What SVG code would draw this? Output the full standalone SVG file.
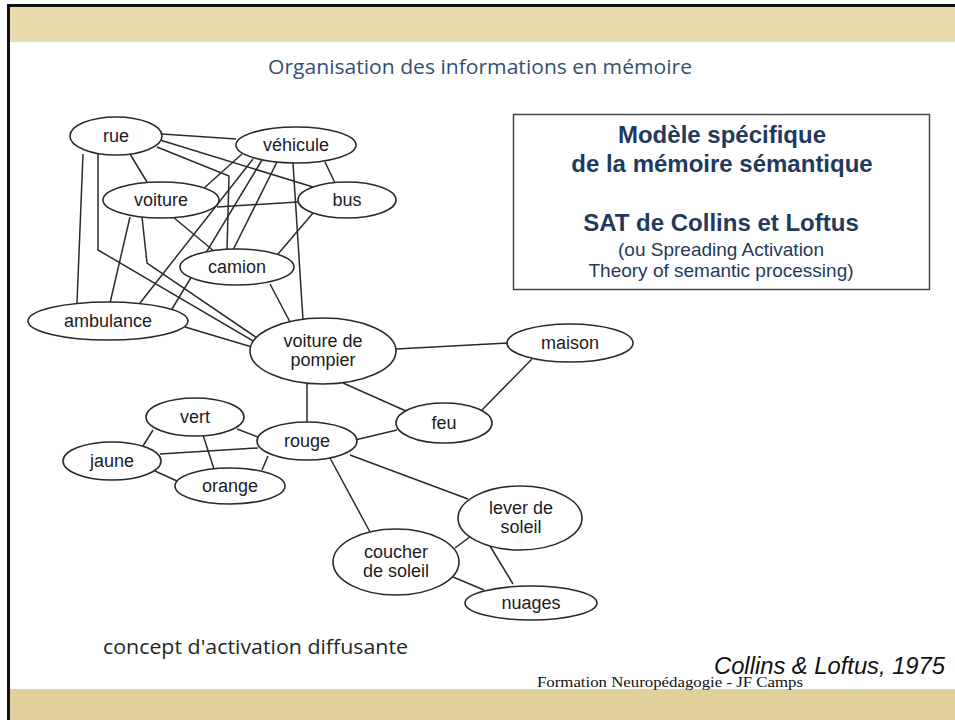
<svg xmlns="http://www.w3.org/2000/svg" width="955" height="720" viewBox="0 0 955 720">
<style>
.n ellipse{fill:#fff;stroke:#2a2a2a;stroke-width:1.6}
.n text{font-family:"Liberation Sans",Arial,sans-serif;font-size:18px;fill:#1c1c24;text-anchor:middle}
#edges line,#edges polyline{stroke:#2a2a2a;stroke-width:1.5;fill:none}
.bx{font-family:"Liberation Sans",Arial,sans-serif;fill:#1f3a5c;text-anchor:middle}
</style>
<rect x="0" y="0" width="955" height="720" fill="#fff"/>
<rect x="10" y="7" width="945" height="35" fill="#e9ddb0"/>
<rect x="10" y="689" width="945" height="31" fill="#e0d09c"/>
<rect x="7" y="4" width="948" height="3" fill="#111"/>
<rect x="7" y="4" width="3" height="716" fill="#111"/>

<text x="480" y="74" font-family="'Open Sans',sans-serif" font-size="20" fill="#34506f" text-anchor="middle" textLength="424" lengthAdjust="spacingAndGlyphs">Organisation des informations en mémoire</text>

<g id="edges">
<line x1="162" y1="134" x2="236" y2="139"/>
<line x1="130" y1="154" x2="147" y2="182"/>
<line x1="160" y1="140" x2="313" y2="187"/>
<polyline points="157,147 229,176 227,250"/>
<line x1="83" y1="154" x2="77" y2="303"/>
<polyline points="98,154 98,250 265,348"/>
<line x1="242" y1="154" x2="203" y2="189"/>
<line x1="325" y1="162" x2="335" y2="183"/>
<line x1="277" y1="162" x2="233" y2="250"/>
<line x1="293" y1="163" x2="303" y2="320"/>
<line x1="253" y1="159" x2="140" y2="303"/>
<line x1="262" y1="160" x2="172" y2="309"/>
<line x1="217" y1="207" x2="298" y2="202"/>
<line x1="173" y1="217" x2="215" y2="252"/>
<line x1="130" y1="217" x2="110" y2="303"/>
<polyline points="142,217 147,263 260,340"/>
<line x1="313" y1="213" x2="278" y2="254"/>
<line x1="270" y1="284" x2="290" y2="322"/>
<line x1="185" y1="327" x2="252" y2="347"/>
<line x1="396" y1="349" x2="508" y2="343"/>
<line x1="343" y1="383" x2="406" y2="411"/>
<line x1="532" y1="359" x2="482" y2="410"/>
<line x1="397" y1="430" x2="355" y2="440"/>
<line x1="307" y1="384" x2="307" y2="423"/>
<line x1="237" y1="429" x2="258" y2="437"/>
<line x1="160" y1="454" x2="258" y2="448"/>
<line x1="268" y1="456" x2="262" y2="470"/>
<line x1="153" y1="430" x2="143" y2="446"/>
<line x1="203" y1="435" x2="214" y2="469"/>
<line x1="155" y1="471" x2="177" y2="481"/>
<line x1="330" y1="458" x2="370" y2="532"/>
<line x1="350" y1="455" x2="468" y2="499"/>
<line x1="455" y1="548" x2="471" y2="536"/>
<line x1="453" y1="577" x2="484" y2="590"/>
<line x1="490" y1="546" x2="513" y2="584"/>
</g>

<g id="rue" class="n"><ellipse cx="116" cy="136" rx="46" ry="19"/><text x="116" y="142">rue</text></g>
<g id="vehicule" class="n"><ellipse cx="296" cy="145" rx="60" ry="18"/><text x="296" y="151">véhicule</text></g>
<g id="voiture" class="n"><ellipse cx="161" cy="200" rx="58" ry="18"/><text x="161" y="206">voiture</text></g>
<g id="bus" class="n"><ellipse cx="347" cy="200" rx="49" ry="18"/><text x="347" y="206">bus</text></g>
<g id="camion" class="n"><ellipse cx="237" cy="267" rx="57" ry="18"/><text x="237" y="273">camion</text></g>
<g id="ambulance" class="n"><ellipse cx="108" cy="321" rx="80" ry="19"/><text x="108" y="327">ambulance</text></g>
<g id="pompier" class="n"><ellipse cx="323" cy="351" rx="73" ry="33"/><text x="323" y="347">voiture de</text><text x="323" y="366">pompier</text></g>
<g id="maison" class="n"><ellipse cx="570" cy="343" rx="63" ry="19"/><text x="570" y="349">maison</text></g>
<g id="feu" class="n"><ellipse cx="444" cy="423" rx="48" ry="20"/><text x="444" y="429">feu</text></g>
<g id="rouge" class="n"><ellipse cx="307" cy="441" rx="50" ry="19"/><text x="307" y="447">rouge</text></g>
<g id="vert" class="n"><ellipse cx="195" cy="417" rx="49" ry="19"/><text x="195" y="423">vert</text></g>
<g id="jaune" class="n"><ellipse cx="112" cy="461" rx="49" ry="19"/><text x="112" y="467">jaune</text></g>
<g id="orange" class="n"><ellipse cx="230" cy="486" rx="55" ry="18"/><text x="230" y="492">orange</text></g>
<g id="lever" class="n"><ellipse cx="520" cy="518" rx="62" ry="32"/><text x="521" y="514">lever de</text><text x="521" y="533">soleil</text></g>
<g id="coucher" class="n"><ellipse cx="396" cy="562" rx="63" ry="33"/><text x="396" y="558">coucher</text><text x="396" y="577">de soleil</text></g>
<g id="nuages" class="n"><ellipse cx="531" cy="603" rx="66" ry="17"/><text x="531" y="609">nuages</text></g>

<g id="box">
<rect x="513.5" y="114.5" width="416" height="175" fill="#fff" stroke="#444" stroke-width="1.5"/>
<text class="bx" x="722" y="143" font-size="24" font-weight="bold">Modèle spécifique</text>
<text class="bx" x="722" y="172" font-size="24" font-weight="bold">de la mémoire sémantique</text>
<text class="bx" x="721" y="231" font-size="24" font-weight="bold">SAT de Collins et Loftus</text>
<text class="bx" x="721" y="256" font-size="19">(ou Spreading Activation</text>
<text class="bx" x="721" y="277" font-size="19">Theory of semantic processing)</text>
</g>

<text x="103" y="654" font-family="'Open Sans',sans-serif" font-size="20" fill="#262626" textLength="305" lengthAdjust="spacingAndGlyphs">concept d'activation diffusante</text>
<text x="945" y="674" font-family="'Liberation Sans',Arial,sans-serif" font-size="24" font-style="italic" fill="#111" text-anchor="end" textLength="231" lengthAdjust="spacingAndGlyphs">Collins &amp; Loftus, 1975</text>
<text x="537" y="687" font-family="'Liberation Serif',serif" font-size="14" fill="#111" textLength="266" lengthAdjust="spacingAndGlyphs">Formation Neuropédagogie - JF Camps</text>
</svg>
